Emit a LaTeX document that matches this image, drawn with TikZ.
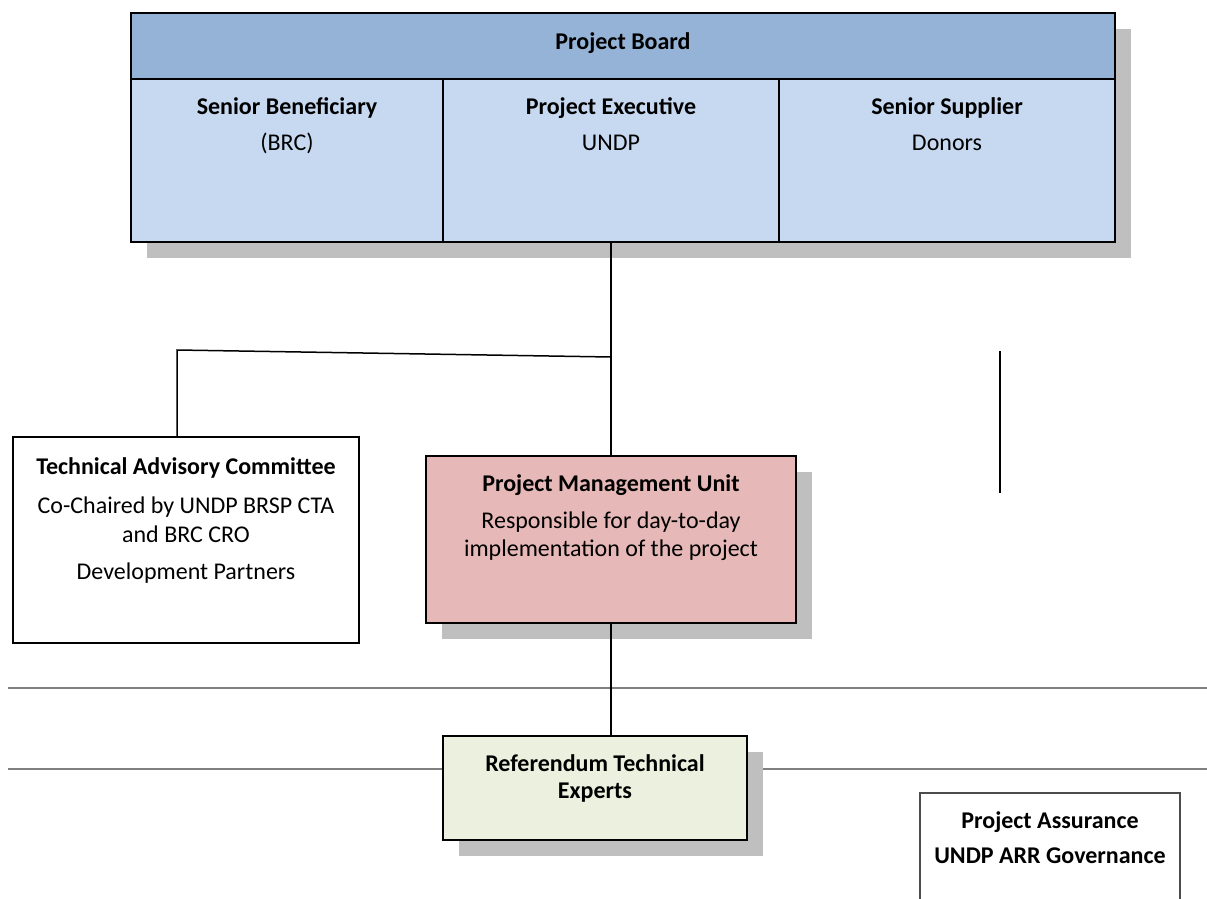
\documentclass[tikz,border=0pt]{standalone}
\usepackage{fontspec}
\setmainfont{Carlito}
\definecolor{hdr}{HTML}{95B3D7}
\definecolor{col}{HTML}{C6D9F1}
\definecolor{pmuc}{HTML}{E6B8B7}
\definecolor{rtec}{HTML}{EBF1DE}
\definecolor{shc}{HTML}{BFBFBF}
\definecolor{glc}{HTML}{7F7F7F}
\newcommand{\fsz}{\fontsize{24}{28}\selectfont}
\begin{document}
\begin{tikzpicture}[x=1pt,y=-1pt,
  box/.style={draw=black, line width=1.6pt, rectangle, inner sep=0pt, outer sep=0pt},
  shadowbox/.style={fill=shc, draw=none, rectangle, inner sep=0pt, outer sep=0pt},
  lbl/.style={font=\fsz, inner sep=0pt, anchor=base},
  blbl/.style={font=\fsz\bfseries, inner sep=0pt, anchor=base},
  conn/.style={draw=black, line width=1.5pt},
  gline/.style={draw=glc, line width=1.3pt}]
\useasboundingbox (0,0) rectangle (1207,899);
\fill[white] (0,0) rectangle (1207,899);

% gray horizontal lines
\coordinate (g1a) at (8,688); \coordinate (g1b) at (1207,688);
\coordinate (g2a) at (8,769); \coordinate (g2b) at (1207,769);
\draw[gline] (g1a) -- (g1b);
\draw[gline] (g2a) -- (g2b);

% Project board shadow
\node[shadowbox, minimum width=984pt, minimum height=229pt] (boardsh) at (639,143.5) {};
% Project board
\node[box, fill=hdr, minimum width=984pt, minimum height=66pt] (board) at (623,46) {};
\node[box, fill=col, minimum width=312pt, minimum height=163pt] (c1) at (287,160.5) {};
\node[box, fill=col, minimum width=336pt, minimum height=163pt] (c2) at (611,160.5) {};
\node[box, fill=col, minimum width=336pt, minimum height=163pt] (c3) at (947,160.5) {};
\node[blbl] (tboard) at (623,49) {Project Board};
\node[blbl] (t1a) at (287,114) {Senior Beneficiary};
\node[lbl]  (t1b) at (287,150) {(BRC)};
\node[blbl] (t2a) at (611,114) {Project Executive};
\node[lbl]  (t2b) at (611,150) {UNDP};
\node[blbl] (t3a) at (947,114) {Senior Supplier};
\node[lbl]  (t3b) at (947,150) {Donors};

% Technical Advisory Committee
\node[box, fill=white, minimum width=346pt, minimum height=206pt] (tac) at (186,540) {};
\node[blbl] (tac1) at (186,474) {Technical Advisory Committee};
\node[lbl]  (tac2) at (186,513) {Co-Chaired by UNDP BRSP CTA};
\node[lbl]  (tac3) at (186,542) {and BRC CRO};
\node[lbl]  (tac4) at (186,579) {Development Partners};

% PMU
\node[shadowbox, minimum width=370pt, minimum height=167pt] (pmush) at (627,555.5) {};
\node[box, fill=pmuc, minimum width=370pt, minimum height=167pt] (pmu) at (611,539.5) {};
\node[blbl] (pmu1) at (611,491) {Project Management Unit};
\node[lbl]  (pmu2) at (611,528) {Responsible for day-to-day};
\node[lbl]  (pmu3) at (611,556) {implementation of the project};

% RTE
\node[shadowbox, minimum width=304pt, minimum height=104pt] (rtesh) at (611,804) {};
\node[box, fill=rtec, minimum width=304pt, minimum height=104pt] (rte) at (595,788) {};
\node[blbl] (rte1) at (595,771) {Referendum Technical};
\node[blbl] (rte2) at (595,798) {Experts};

% Project Assurance
\node[draw=black!70, line width=1.2pt, fill=white, rectangle, inner sep=0pt, minimum width=260pt, minimum height=130pt] (pa) at (1050,858) {};
\node[blbl] (pa1) at (1050,828) {Project Assurance};
\node[blbl] (pa2) at (1050,863) {UNDP ARR Governance};

% connectors
\coordinate (j) at (611,357);
\coordinate (ta) at (177,350);
\draw[conn] (c2.south) -- (pmu.north);
\draw[conn] (j) -- (ta) -- (ta |- tac.north);
\draw[conn] (pmu.south) -- (pmu.south |- rte.north);
\coordinate (r1) at (1000,351);
\coordinate (r2) at (1000,493);
\draw[conn] (r1) -- (r2);
\end{tikzpicture}
\end{document}
